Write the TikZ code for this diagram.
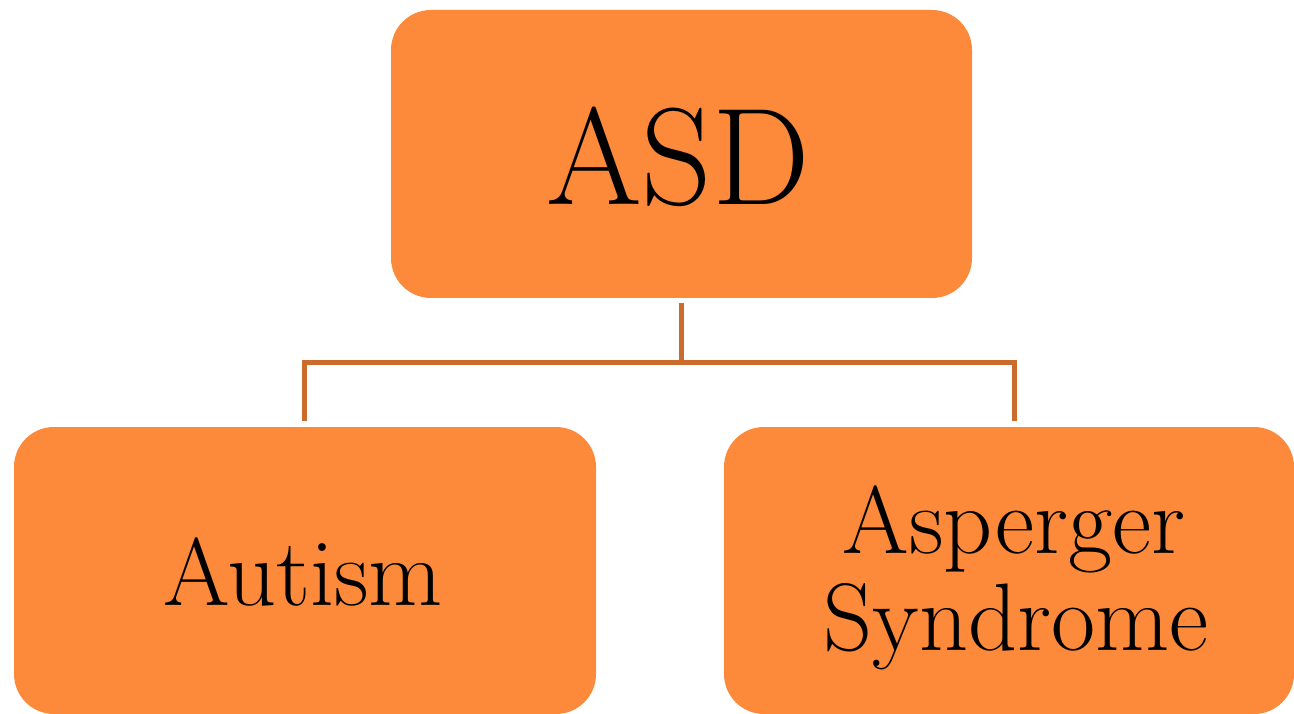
\documentclass[tikz,border=0pt]{standalone}
\definecolor{boxfill}{RGB}{253,137,58}
\definecolor{linkcol}{RGB}{204,108,44}
\tikzset{
  box/.style={fill=boxfill, draw=none, rounded corners=40pt},
  link/.style={draw=linkcol, line width=5pt, line cap=butt, line join=miter},
  lbl/.style={anchor=base, inner sep=0pt},
}
\begin{document}
\begin{tikzpicture}[x=1pt,y=-1pt]
\useasboundingbox (0,0) rectangle (1294,714);
% boxes
\fill[box] (391,10) rectangle (972,298);
\fill[box] (14,427) rectangle (596,714);
\fill[box] (724,427) rectangle (1294,714);
% texts
\node[lbl] (asdt) at (678,205) {\fontsize{138}{140}\selectfont ASD};
\node[lbl] (autt) at (303,605) {\fontsize{96}{97}\selectfont Autism};
\node[lbl] (aspt1) at (1014,553) {\fontsize{96}{97}\selectfont Asperger};
\node[lbl] (aspt2) at (1016,650) {\fontsize{96}{97}\selectfont Syndrome};
% connectors
\coordinate (c0) at (681,303);
\coordinate (cm) at (681,362);
\coordinate (cl) at (304.5,362);
\coordinate (cr) at (1014.5,362);
\coordinate (cl2) at (304.5,421);
\coordinate (cr2) at (1014.5,421);
\draw[link] (c0) -- (cm);
\draw[link] (cl2) -- (cl) -- (cr) -- (cr2);
\end{tikzpicture}
\end{document}
